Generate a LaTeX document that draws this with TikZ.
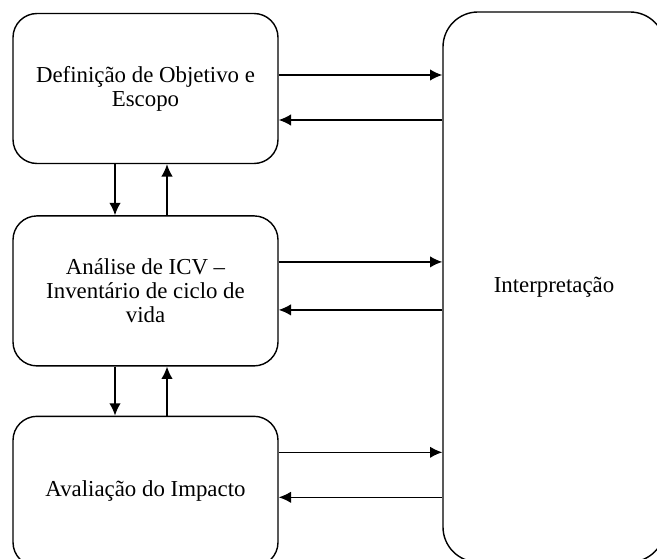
\documentclass[tikz,border=0pt]{standalone}
\usepackage{fontspec}
\setmainfont{Liberation Serif}
\usetikzlibrary{positioning,arrows.meta}

\begin{document}
\begin{tikzpicture}[>={Latex[length=7pt,width=6.5pt]},line width=0.8pt,node distance=1.0cm,
    etapa/.style={draw,rounded corners=0.48cm,minimum width=5.3cm,minimum height=3.0cm,align=center,font=\fontsize{13}{13.7}\selectfont}]
        \useasboundingbox (0,0) rectangle (13.14,-11.18);
        \node[etapa] (objetivo) at (2.91,-1.77) {Definição de Objetivo e\\Escopo};
        \node[etapa,below=1.02cm of objetivo] (icv) {Análise de ICV –\\Inventário de ciclo de\\vida};
        \node[etapa,below=0.98cm of icv] (impacto) {Avaliação do Impacto};
        \node[etapa,rounded corners=0.7cm,minimum width=4.44cm,minimum height=11.0cm] (interp) at (11.08,-5.74) {Interpretação};
        \draw[->] ([xshift=-0.61cm]objetivo.south) -- ([xshift=-0.61cm]icv.north);
        \draw[<-] ([xshift=0.43cm]objetivo.south) -- ([xshift=0.43cm]icv.north);
        \draw[->] ([xshift=-0.61cm]icv.south) -- ([xshift=-0.61cm]impacto.north);
        \draw[<-] ([xshift=0.43cm]icv.south) -- ([xshift=0.43cm]impacto.north);
        \draw[->] ([yshift=0.27cm]objetivo.east) -- ([yshift=0.27cm]objetivo.east -| interp.west);
        \draw[<-] ([yshift=-0.63cm]objetivo.east) -- ([yshift=-0.63cm]objetivo.east -| interp.west);
        \draw[->] ([yshift=0.58cm]icv.east) -- ([yshift=0.58cm]icv.east -| interp.west);
        \draw[<-] ([yshift=-0.38cm]icv.east) -- ([yshift=-0.38cm]icv.east -| interp.west);
        \draw[->] ([yshift=0.78cm]impacto.east) -- ([yshift=0.78cm]impacto.east -| interp.west);
        \draw[<-] ([yshift=-0.12cm]impacto.east) -- ([yshift=-0.12cm]impacto.east -| interp.west);
    \end{tikzpicture}
\end{document}
